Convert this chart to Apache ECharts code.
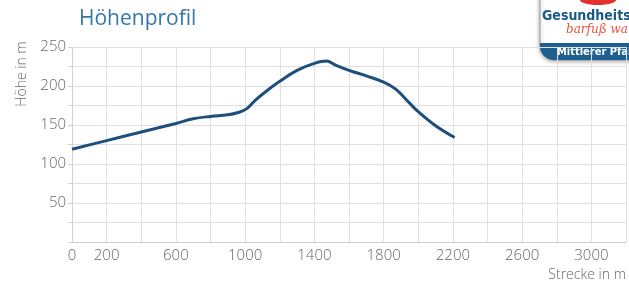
<!DOCTYPE html>
<html>
<head>
<meta charset="utf-8">
<script src="https://cdn.jsdelivr.net/npm/echarts@6/dist/echarts.min.js"></script>
<style>
  html, body { margin: 0; padding: 0; background: #fff; }
  #main { width: 629px; height: 284px; }
</style>
</head>
<body>
<div id="main"></div>
<script>
// Strecke (m) und Höhe (m)
var strecke = [0, 200, 400, 600, 700, 800, 900, 960, 1010, 1060, 1120, 1200, 1300, 1400, 1470, 1520, 1600, 1700, 1800, 1870, 1950, 2000, 2100, 2210];
var hoehe = [119, 130, 141, 152, 158, 161, 163, 166, 171, 182, 193, 206, 220, 229, 232, 227, 220, 213, 205, 196, 178, 167, 149, 134];
var xLabels = [0, 200, 600, 1000, 1400, 1800, 2200, 2600, 3000];
var yLabels = [50, 100, 150, 200, 250];

var chartDom = document.getElementById('main');
var myChart = echarts.init(chartDom);

var punkte = [];
for (var i = 0; i < strecke.length; i++) {
    punkte.push([strecke[i], hoehe[i]]);
}

var gridColor = '#e4dede';
var textColor = '#6c6565';

var option = {
    animation: false,
    title: {
        text: 'Höhenprofil',
        left: 74,
        top: 4,
        textStyle: { fontFamily: 'Open Sans', fontWeight: 'normal', fontSize: 21, color: '#3577a8' }
    },
    grid: { left: 72, right: 0, top: 47, bottom: 42 },
    xAxis: {
        type: 'value',
        min: 0,
        max: 3200,
        interval: 200,
        axisLine: { lineStyle: { color: '#d6cfcf' } },
        axisTick: { show: false },
        splitLine: { lineStyle: { color: gridColor } },
        axisLabel: {
            color: textColor,
            fontFamily: 'Open Sans',
            fontWeight: 300,
            fontSize: 15,
            margin: 6,
            formatter: function (v) { return xLabels.indexOf(v) >= 0 ? String(v) : ''; }
        }
    },
    yAxis: {
        type: 'value',
        min: 0,
        max: 250,
        interval: 25,
        axisLine: { show: true, lineStyle: { color: '#d6cfcf' } },
        axisTick: { show: true, length: 4, lineStyle: { color: '#d6cfcf' } },
        splitLine: { lineStyle: { color: gridColor } },
        axisLabel: {
            color: textColor,
            fontFamily: 'Open Sans',
            fontWeight: 300,
            fontSize: 15,
            margin: 6,
            formatter: function (v) { return yLabels.indexOf(v) >= 0 ? String(v) : ''; }
        }
    },
    graphic: [
        {
            type: 'text', x: 22, y: 74, rotation: Math.PI / 2,
            style: { text: 'Höhe in m', fill: textColor, font: '300 14px "Open Sans"', align: 'center', verticalAlign: 'middle' }
        },
        {
            type: 'text', x: 626, y: 275,
            style: { text: 'Strecke in m', fill: textColor, font: '300 14px "Open Sans"', align: 'right', verticalAlign: 'middle' }
        },
        {
            type: 'group',
            children: [
                { type: 'rect', shape: { x: 540, y: -20, width: 110, height: 80, r: 14 },
                  style: { fill: '#fff', stroke: '#9a9a9a', lineWidth: 1, shadowBlur: 4, shadowColor: 'rgba(0,0,0,0.35)', shadowOffsetY: 1 } },
                { type: 'rect', shape: { x: 540, y: 43, width: 110, height: 17, r: [0, 0, 14, 14] },
                  style: { fill: '#1d5f8e' } },
                { type: 'ellipse', shape: { cx: 598, cy: 0, rx: 18, ry: 5 },
                  style: { fill: '#e2312e' } },
                { type: 'text', x: 542, y: 16,
                  style: { text: 'GesundheitsPfad', fill: '#1a5a86', font: 'bold 14px "DejaVu Sans Condensed"', verticalAlign: 'middle' } },
                { type: 'text', x: 566, y: 30,
                  style: { text: 'barfuß wandern', fill: '#e4553e', font: 'italic 12px "DejaVu Serif"', verticalAlign: 'middle' } },
                { type: 'text', x: 557, y: 52,
                  style: { text: 'Mittlerer Pfalz', fill: '#ffffff', font: 'bold 11px "DejaVu Sans Condensed"', verticalAlign: 'middle' } }
            ]
        }
    ],
    series: [
        {
            type: 'line',
            data: punkte,
            smooth: 0.4,
            showSymbol: false,
            lineStyle: { color: '#1d4f7e', width: 3 }
        }
    ]
};

option && myChart.setOption(option);
</script>
</body>
</html>
